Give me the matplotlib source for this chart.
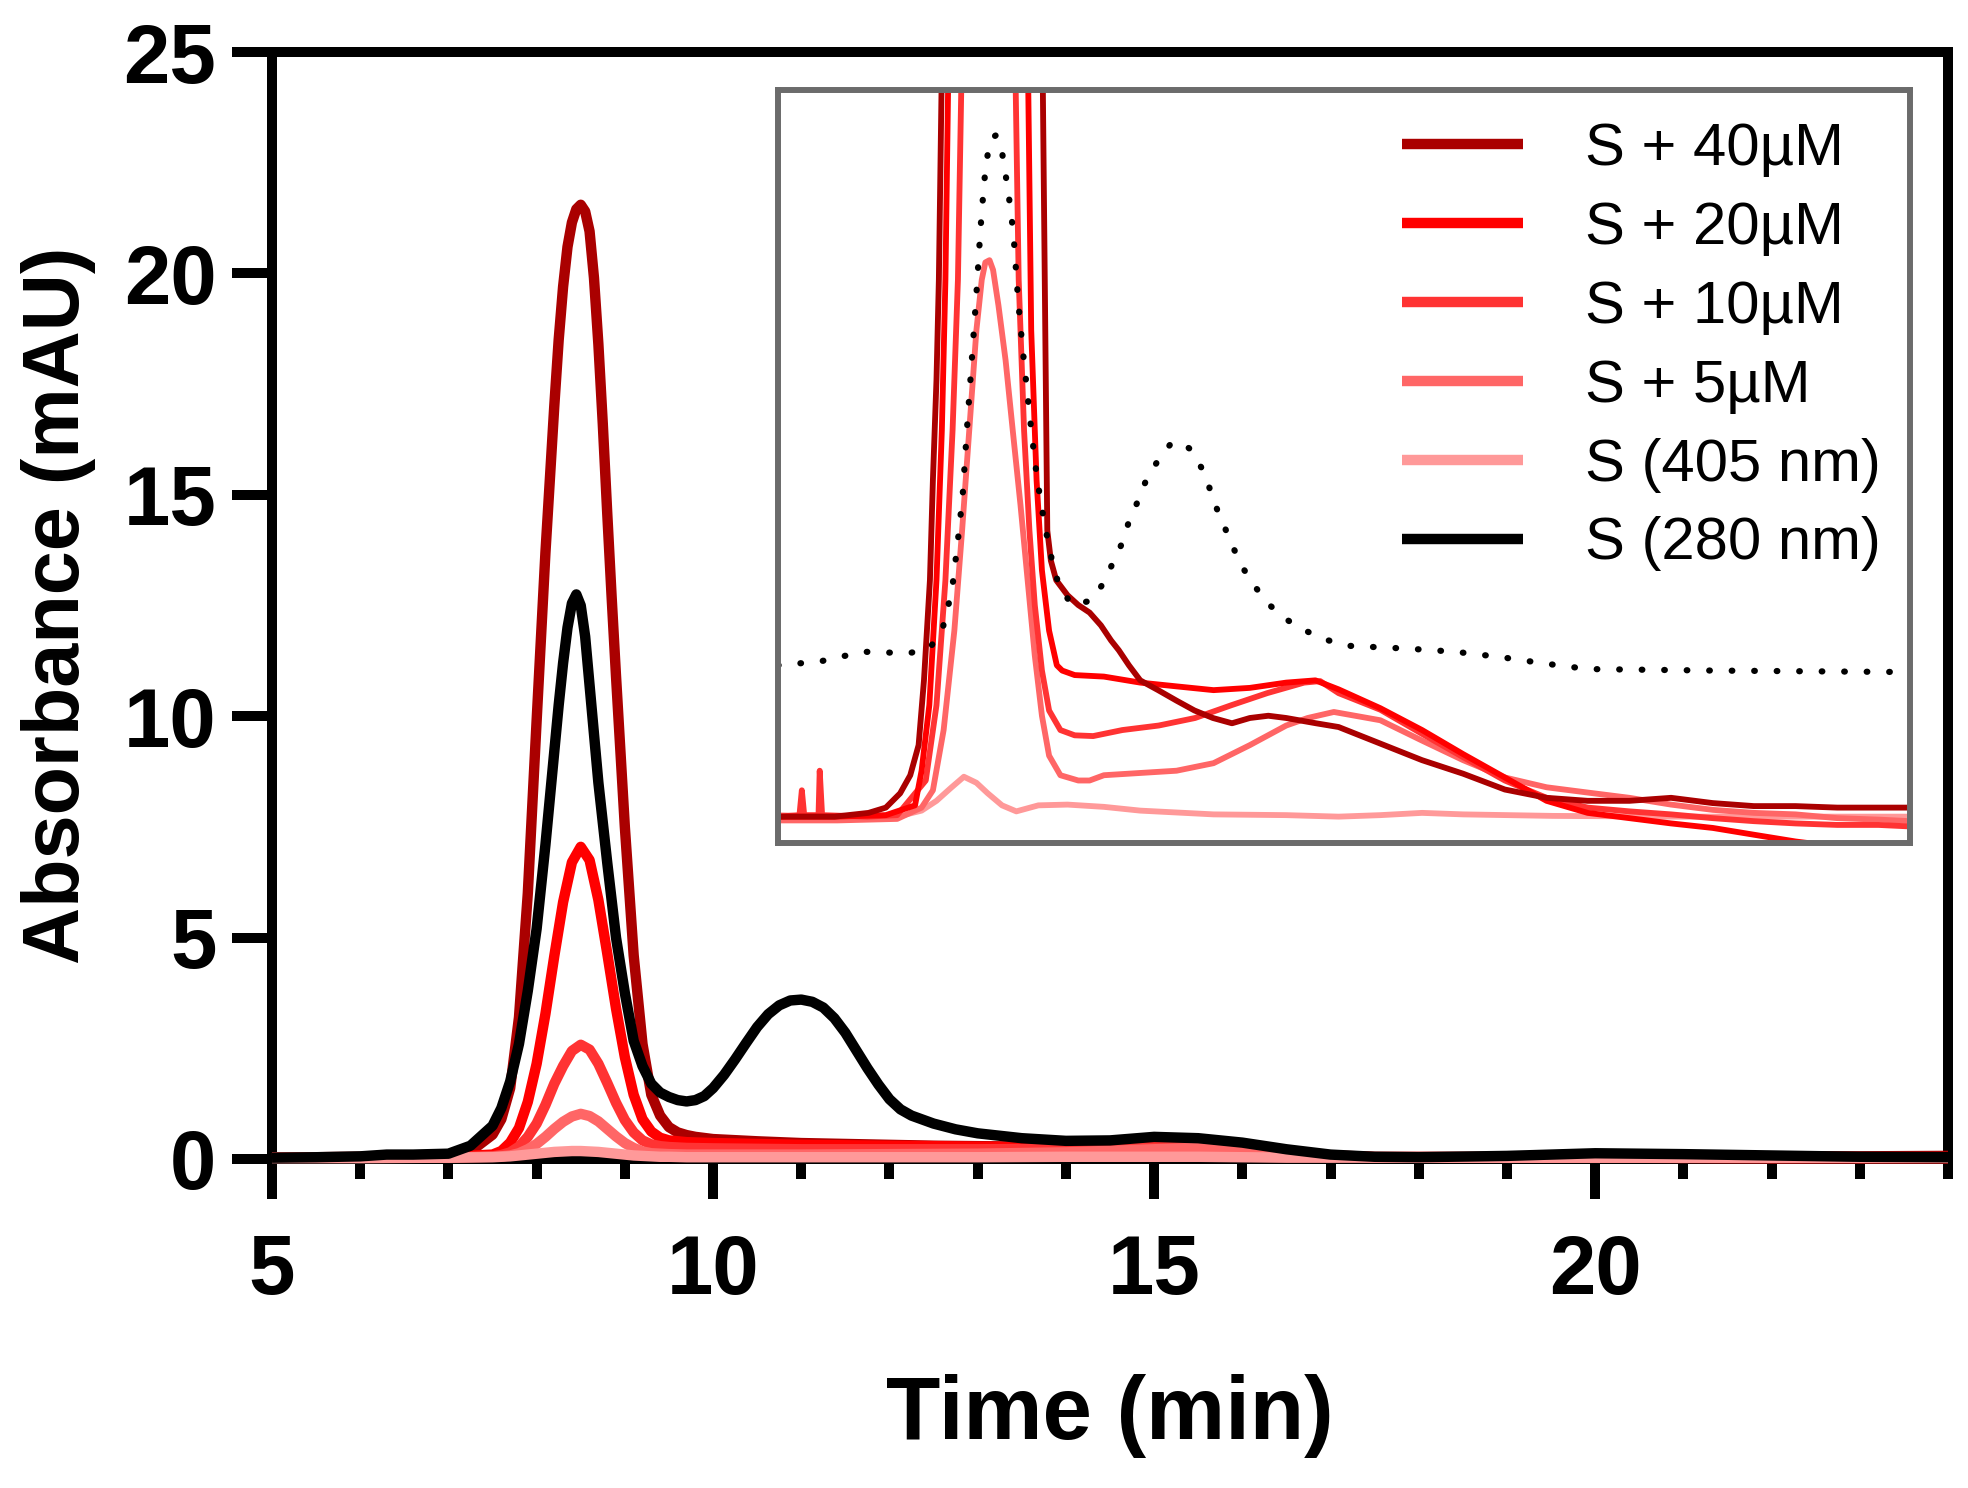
import matplotlib
matplotlib.use("Agg")
import matplotlib.pyplot as plt
from matplotlib.ticker import MultipleLocator, FixedLocator

plt.rcParams['font.family'] = ['Liberation Sans', 'DejaVu Sans']

# ---------------- main chromatogram data ----------------
labels = ["S + 40\u00b5M", "S + 20\u00b5M", "S + 10\u00b5M", "S + 5\u00b5M", "S (405 nm)", "S (280 nm)"]
colors = ["#AA0000", "#FF0000", "#FF3333", "#FF6666", "#FF9999", "#000000"]

t_40 = [5.0, 5.5, 6.0, 6.5, 7.0, 7.25, 7.5, 7.6, 7.7, 7.8, 7.9, 8.0, 8.1, 8.2, 8.25, 8.3,
        8.35, 8.4, 8.45, 8.5, 8.55, 8.6, 8.65, 8.7, 8.75, 8.8, 8.85, 8.9, 9.0, 9.1, 9.2, 9.3, 9.4,
        9.5, 9.6, 9.7, 9.8, 10.0, 10.5, 11.0, 11.5, 12.0, 12.5, 13.0, 13.5, 14.0, 14.5,
        15.0, 15.5, 16.0, 16.5, 17.0, 17.5, 18.0, 19.0, 20.0, 21.0, 22.0, 23.0, 24.0]
a_40 = [0.03, 0.04, 0.05, 0.06, 0.08, 0.17, 0.55, 0.9, 1.6, 3.2, 6.0, 9.9, 13.7, 17.0, 18.5, 19.7,
        20.6, 21.15, 21.45, 21.55, 21.4, 20.95, 19.9, 18.4, 16.6, 14.6, 12.7, 10.9, 7.5, 4.6, 2.6, 1.45, 0.98,
        0.72, 0.6, 0.54, 0.5, 0.45, 0.4, 0.36, 0.34, 0.32, 0.3, 0.29, 0.28, 0.27, 0.27,
        0.26, 0.25, 0.22, 0.15, 0.08, 0.05, 0.05, 0.05, 0.07, 0.07, 0.06, 0.06, 0.07]

t_red = [5.0, 6.0, 7.0, 7.5, 7.6, 7.7, 7.8, 7.9, 8.0, 8.1, 8.2, 8.3, 8.4, 8.5, 8.6, 8.7,
         8.8, 8.9, 9.0, 9.1, 9.2, 9.3, 9.4, 9.5, 9.7, 10.0, 10.5, 11.0, 12.0, 13.0, 14.0,
         15.0, 15.5, 16.0, 16.5, 17.0, 17.5, 18.0, 20.0, 22.0, 24.0]
a_20 = [0.03, 0.04, 0.05, 0.1, 0.18, 0.37, 0.7, 1.29, 2.15, 3.28, 4.58, 5.8, 6.7, 7.05, 6.75, 5.85,
        4.65, 3.4, 2.3, 1.45, 0.9, 0.62, 0.48, 0.42, 0.38, 0.36, 0.34, 0.32, 0.3, 0.28, 0.27,
        0.27, 0.27, 0.22, 0.14, 0.07, 0.04, 0.03, 0.03, 0.02, 0.02]
a_10 = [0.03, 0.04, 0.04, 0.06, 0.09, 0.15, 0.28, 0.5, 0.8, 1.22, 1.7, 2.1, 2.44, 2.58, 2.47, 2.15,
        1.72, 1.27, 0.88, 0.6, 0.42, 0.33, 0.29, 0.27, 0.25, 0.24, 0.23, 0.22, 0.22, 0.22, 0.23,
        0.26, 0.28, 0.24, 0.15, 0.07, 0.04, 0.03, 0.03, 0.02, 0.02]
a_5 = [0.03, 0.03, 0.03, 0.05, 0.06, 0.08, 0.13, 0.22, 0.34, 0.5, 0.68, 0.84, 0.96, 1.02, 0.97, 0.85,
       0.68, 0.51, 0.36, 0.25, 0.17, 0.13, 0.12, 0.11, 0.1, 0.1, 0.1, 0.1, 0.11, 0.12, 0.15,
       0.22, 0.25, 0.22, 0.14, 0.07, 0.04, 0.03, 0.03, 0.03, 0.03]
a_405 = [0.02, 0.02, 0.03, 0.04, 0.05, 0.06, 0.08, 0.1, 0.12, 0.14, 0.16, 0.17, 0.18, 0.18, 0.17, 0.16,
         0.14, 0.12, 0.1, 0.08, 0.07, 0.06, 0.05, 0.05, 0.04, 0.04, 0.04, 0.04, 0.04, 0.04, 0.05,
         0.05, 0.05, 0.04, 0.03, 0.03, 0.03, 0.03, 0.03, 0.03, 0.03]

t_280 = [5.0, 5.5, 6.0, 6.3, 6.6, 7.0, 7.25, 7.5, 7.6, 7.7, 7.8, 7.9, 8.0, 8.1, 8.2, 8.25, 8.3,
         8.35, 8.4, 8.45, 8.5, 8.55, 8.6, 8.65, 8.7, 8.8, 8.9, 9.0, 9.1, 9.2, 9.3, 9.4, 9.5, 9.6,
         9.7, 9.8, 9.9, 10.0, 10.125, 10.25, 10.375, 10.5, 10.625, 10.75, 10.875, 11.0, 11.125,
         11.25, 11.375, 11.5, 11.625, 11.75, 11.875, 12.0, 12.125, 12.25, 12.5, 12.75,
         13.0, 13.5, 14.0, 14.5, 15.0, 15.5, 16.0, 16.5, 17.0, 17.5, 18.0, 19.0, 20.0,
         21.0, 22.0, 23.0, 24.0]
a_280 = [0.03, 0.04, 0.06, 0.1, 0.1, 0.12, 0.3, 0.75, 1.15, 1.75, 2.6, 3.8, 5.2, 7.1, 9.2, 10.25, 11.2,
         12.0, 12.55, 12.75, 12.5, 11.8, 10.7, 9.6, 8.5, 6.7, 5.0, 3.75, 2.67, 2.1, 1.7, 1.5, 1.4, 1.33,
         1.3, 1.33, 1.42, 1.6, 1.9, 2.25, 2.62, 2.98, 3.27, 3.47, 3.58, 3.6, 3.55,
         3.42, 3.18, 2.85, 2.45, 2.05, 1.68, 1.35, 1.12, 0.98, 0.8, 0.67,
         0.58, 0.47, 0.41, 0.42, 0.5, 0.47, 0.37, 0.22, 0.1, 0.05, 0.04, 0.07, 0.13,
         0.11, 0.08, 0.05, 0.04]

# ---------------- inset data (relative scale, 0-1) ----------------
ti_280 = [5.0, 5.7, 6.43, 7.2, 7.55, 7.76, 7.85, 7.93, 8.02, 8.1, 8.17, 8.25, 8.33, 8.4, 8.46,
          8.5, 8.57, 8.66, 8.74, 8.8, 8.86, 8.95, 9.03, 9.1, 9.18, 9.26, 9.35, 9.47, 9.62, 9.73,
          9.94, 10.26, 10.47, 10.62, 10.78, 10.89, 11.04, 11.18, 11.37, 11.59, 11.75, 11.92,
          12.11, 12.24, 12.37, 12.52, 12.66, 12.83, 13.02, 13.25, 13.53, 13.85, 14.2, 14.54,
          15.6, 16.36, 17.12, 17.9, 18.59, 20.69, 24.0]
ri_280 = [0.236, 0.241, 0.254, 0.252, 0.259, 0.284, 0.312, 0.342, 0.402, 0.462, 0.548, 0.638, 0.729,
          0.817, 0.877, 0.906, 0.935, 0.94, 0.928, 0.897, 0.868, 0.811, 0.721, 0.661, 0.601, 0.542,
          0.483, 0.425, 0.367, 0.339, 0.316, 0.322, 0.346, 0.372, 0.399, 0.427, 0.454, 0.482,
          0.507, 0.530, 0.533, 0.523, 0.498, 0.472, 0.443, 0.415, 0.389, 0.362, 0.339, 0.316,
          0.297, 0.282, 0.270, 0.262, 0.258, 0.254, 0.247, 0.238, 0.231, 0.229, 0.227]

ti_40 = [5.0, 5.95, 6.52, 6.81, 7.05, 7.22, 7.36, 7.45, 7.55, 7.6, 7.66, 7.7, 7.78, 8.57,
         9.42, 9.52, 9.58, 9.67, 9.86, 10.04, 10.23, 10.42, 10.59, 10.72, 10.89, 11.08, 11.38,
         11.69, 11.99, 12.3, 12.62, 12.92, 13.23, 13.53, 14.03, 14.41, 15.11, 15.81, 16.5,
         17.2, 17.9, 18.59, 19.29, 19.99, 20.69, 21.38, 22.08, 22.78, 24.0]
ri_40 = [0.035, 0.035, 0.04, 0.047, 0.066, 0.09, 0.13, 0.216, 0.349, 0.482, 0.615, 0.748, 1.2, 8.0,
         1.2, 0.415, 0.375, 0.349, 0.329, 0.316, 0.306, 0.289, 0.269, 0.256, 0.236, 0.216, 0.203,
         0.189, 0.176, 0.166, 0.159, 0.166, 0.169, 0.166, 0.159, 0.154, 0.132, 0.11, 0.092,
         0.071, 0.06, 0.056, 0.056, 0.06, 0.053, 0.049, 0.049, 0.047, 0.047]

ti_20 = [5.0, 5.95, 6.81, 7.3, 7.41, 7.54, 7.66, 7.75, 7.81, 7.89, 8.55, 9.17, 9.25, 9.34,
         9.43, 9.55, 9.68, 9.77, 9.98, 10.47, 11.08, 11.69, 12.31, 12.92, 13.53, 14.02, 14.41,
         15.11, 15.81, 16.5, 17.2, 17.9, 18.59, 19.29, 19.99, 20.69, 21.38, 22.08, 22.78,
         23.5, 24.0]
ri_20 = [0.035, 0.035, 0.037, 0.05, 0.096, 0.183, 0.349, 0.548, 0.748, 1.2, 8.0, 1.2, 0.681, 0.482,
         0.362, 0.282, 0.236, 0.229, 0.223, 0.221, 0.213, 0.208, 0.203, 0.206, 0.213, 0.216, 0.204,
         0.179, 0.15, 0.118, 0.087, 0.056, 0.04, 0.033, 0.026, 0.02, 0.011, 0.002, -0.005,
         -0.01, -0.005]

ti_10 = [5.0, 5.36, 5.4, 5.44, 5.68, 5.7, 5.74, 6.5, 7.0, 7.48, 7.66, 7.81, 7.93, 8.02, 8.12,
         8.55, 8.95, 9.04, 9.13, 9.22, 9.31, 9.43, 9.55, 9.74, 9.98, 10.29, 10.78, 11.39, 12.0,
         12.61, 13.21, 13.83, 14.1, 14.41, 15.11, 15.81, 16.5, 17.2, 17.9, 18.59, 19.29, 19.99,
         20.69, 21.38, 22.08, 22.78, 23.47, 24.0]
ri_10 = [0.035, 0.037, 0.07, 0.037, 0.037, 0.096, 0.037, 0.035, 0.037, 0.083, 0.183, 0.349, 0.548,
         0.748, 1.2, 8.0, 1.2, 0.748, 0.548, 0.415, 0.316, 0.229, 0.176, 0.15, 0.143, 0.142, 0.15,
         0.156, 0.166, 0.183, 0.199, 0.213, 0.215, 0.199, 0.177, 0.145, 0.114, 0.083, 0.06, 0.047,
         0.042, 0.038, 0.033, 0.029, 0.026, 0.024, 0.024, 0.022]

ti_5 = [5.0, 6.0, 7.0, 7.41, 7.6, 7.78, 7.96, 8.09, 8.21, 8.33, 8.42, 8.48, 8.55, 8.61, 8.7,
        8.82, 8.94, 9.07, 9.19, 9.31, 9.43, 9.55, 9.74, 10.04, 10.23, 10.47, 11.08, 11.69, 12.31,
        12.92, 13.53, 13.89, 14.33, 15.11, 15.81, 16.5, 17.2, 17.9, 18.59, 19.29, 19.99, 20.69,
        21.38, 22.08, 22.78, 23.49, 24.0]
ri_5 = [0.03, 0.03, 0.032, 0.047, 0.07, 0.15, 0.282, 0.415, 0.548, 0.681, 0.748, 0.771, 0.774,
        0.761, 0.714, 0.641, 0.548, 0.449, 0.349, 0.249, 0.169, 0.116, 0.09, 0.083, 0.083, 0.09,
        0.093, 0.096, 0.106, 0.13, 0.156, 0.166, 0.174, 0.163, 0.136, 0.11, 0.087, 0.074, 0.067,
        0.06, 0.051, 0.044, 0.04, 0.038, 0.033, 0.031, 0.029]

ti_405 = [5.0, 5.65, 6.5, 7.0, 7.41, 7.66, 7.9, 8.12, 8.33, 8.52, 8.76, 9.0, 9.37, 9.86, 10.47,
          11.08, 12.31, 13.53, 14.41, 15.11, 15.81, 16.5, 18.0, 20.0, 24.0]
ri_405 = [0.037, 0.035, 0.033, 0.035, 0.043, 0.056, 0.073, 0.088, 0.08, 0.066, 0.05, 0.042, 0.05,
          0.051, 0.048, 0.043, 0.038, 0.037, 0.035, 0.037, 0.04, 0.038, 0.036, 0.035, 0.035]

# ---------------- figure ----------------
W, H = 1968, 1488
fig = plt.figure(figsize=(W / 100, H / 100), dpi=100)
ax = fig.add_axes([272 / W, 1 - 1159 / H, (1948 - 272) / W, (1159 - 52) / H])

LW = 7.5
main_series = [(t_40, a_40), (t_red, a_20), (t_red, a_10), (t_red, a_5), (t_red, a_405), (t_280, a_280)]
handles = []
for (tx, yv), c, lab in zip(main_series, colors, labels):
    ln, = ax.plot(tx, yv, color=c, lw=LW, label=lab, zorder=3, clip_on=False,
                  solid_capstyle='butt', solid_joinstyle='round')
    handles.append(ln)

ax.set_xlim(5, 24)
ax.set_ylim(0, 25)
ax.xaxis.set_major_locator(FixedLocator([5, 10, 15, 20]))
ax.xaxis.set_minor_locator(MultipleLocator(1))
ax.yaxis.set_major_locator(MultipleLocator(5))
for s in ax.spines.values():
    s.set_linewidth(7.2)
    s.set_color('black')
ax.tick_params(axis='both', which='major', length=29, width=7.2, direction='out',
               labelsize=60, color='black')
ax.tick_params(axis='x', which='major', pad=24)
ax.tick_params(axis='y', which='major', pad=11)
ax.tick_params(axis='x', which='minor', length=14.4, width=7.2, direction='out')
for lbl in ax.get_xticklabels() + ax.get_yticklabels():
    lbl.set_fontweight('bold')
ax.set_xlabel("Time (min)", fontsize=64, fontweight='bold', labelpad=46)
ax.set_ylabel("Absorbance (mAU)", fontsize=57, fontweight='bold', labelpad=20)

# ---------------- inset ----------------
axi = fig.add_axes([778 / W, 1 - 843 / H, (1910 - 778) / W, (843 - 90) / H])
axi.set_facecolor('white')
ILW = 4.2
inset_series = [(ti_405, ri_405, colors[4]), (ti_5, ri_5, colors[3]), (ti_10, ri_10, colors[2]),
                (ti_20, ri_20, colors[1]), (ti_40, ri_40, colors[0])]
for tx, yv, c in inset_series:
    axi.plot(tx, yv, color=c, lw=ILW, solid_joinstyle='round')
axi.plot(ti_280, ri_280, color='black', lw=4.5, linestyle=(0, (0.1, 3.5)),
         dash_capstyle='round')
axi.set_xlim(5, 24)
axi.set_ylim(0, 1)
axi.set_xticks([])
axi.set_yticks([])
for s in axi.spines.values():
    s.set_linewidth(4.3)
    s.set_color('#6b6b6b')

leg = axi.legend(handles=handles, labels=labels, loc='upper left',
                 bbox_to_anchor=(1402 / W, 1 - 122 / H), bbox_transform=fig.transFigure,
                 frameon=False, borderpad=0, borderaxespad=0,
                 handlelength=2.02, handletextpad=1.05, labelspacing=0.40,
                 prop={'family': ['Liberation Sans', 'DejaVu Sans'], 'weight': 'normal', 'size': 43})

fig.savefig("out.png", dpi=100)
